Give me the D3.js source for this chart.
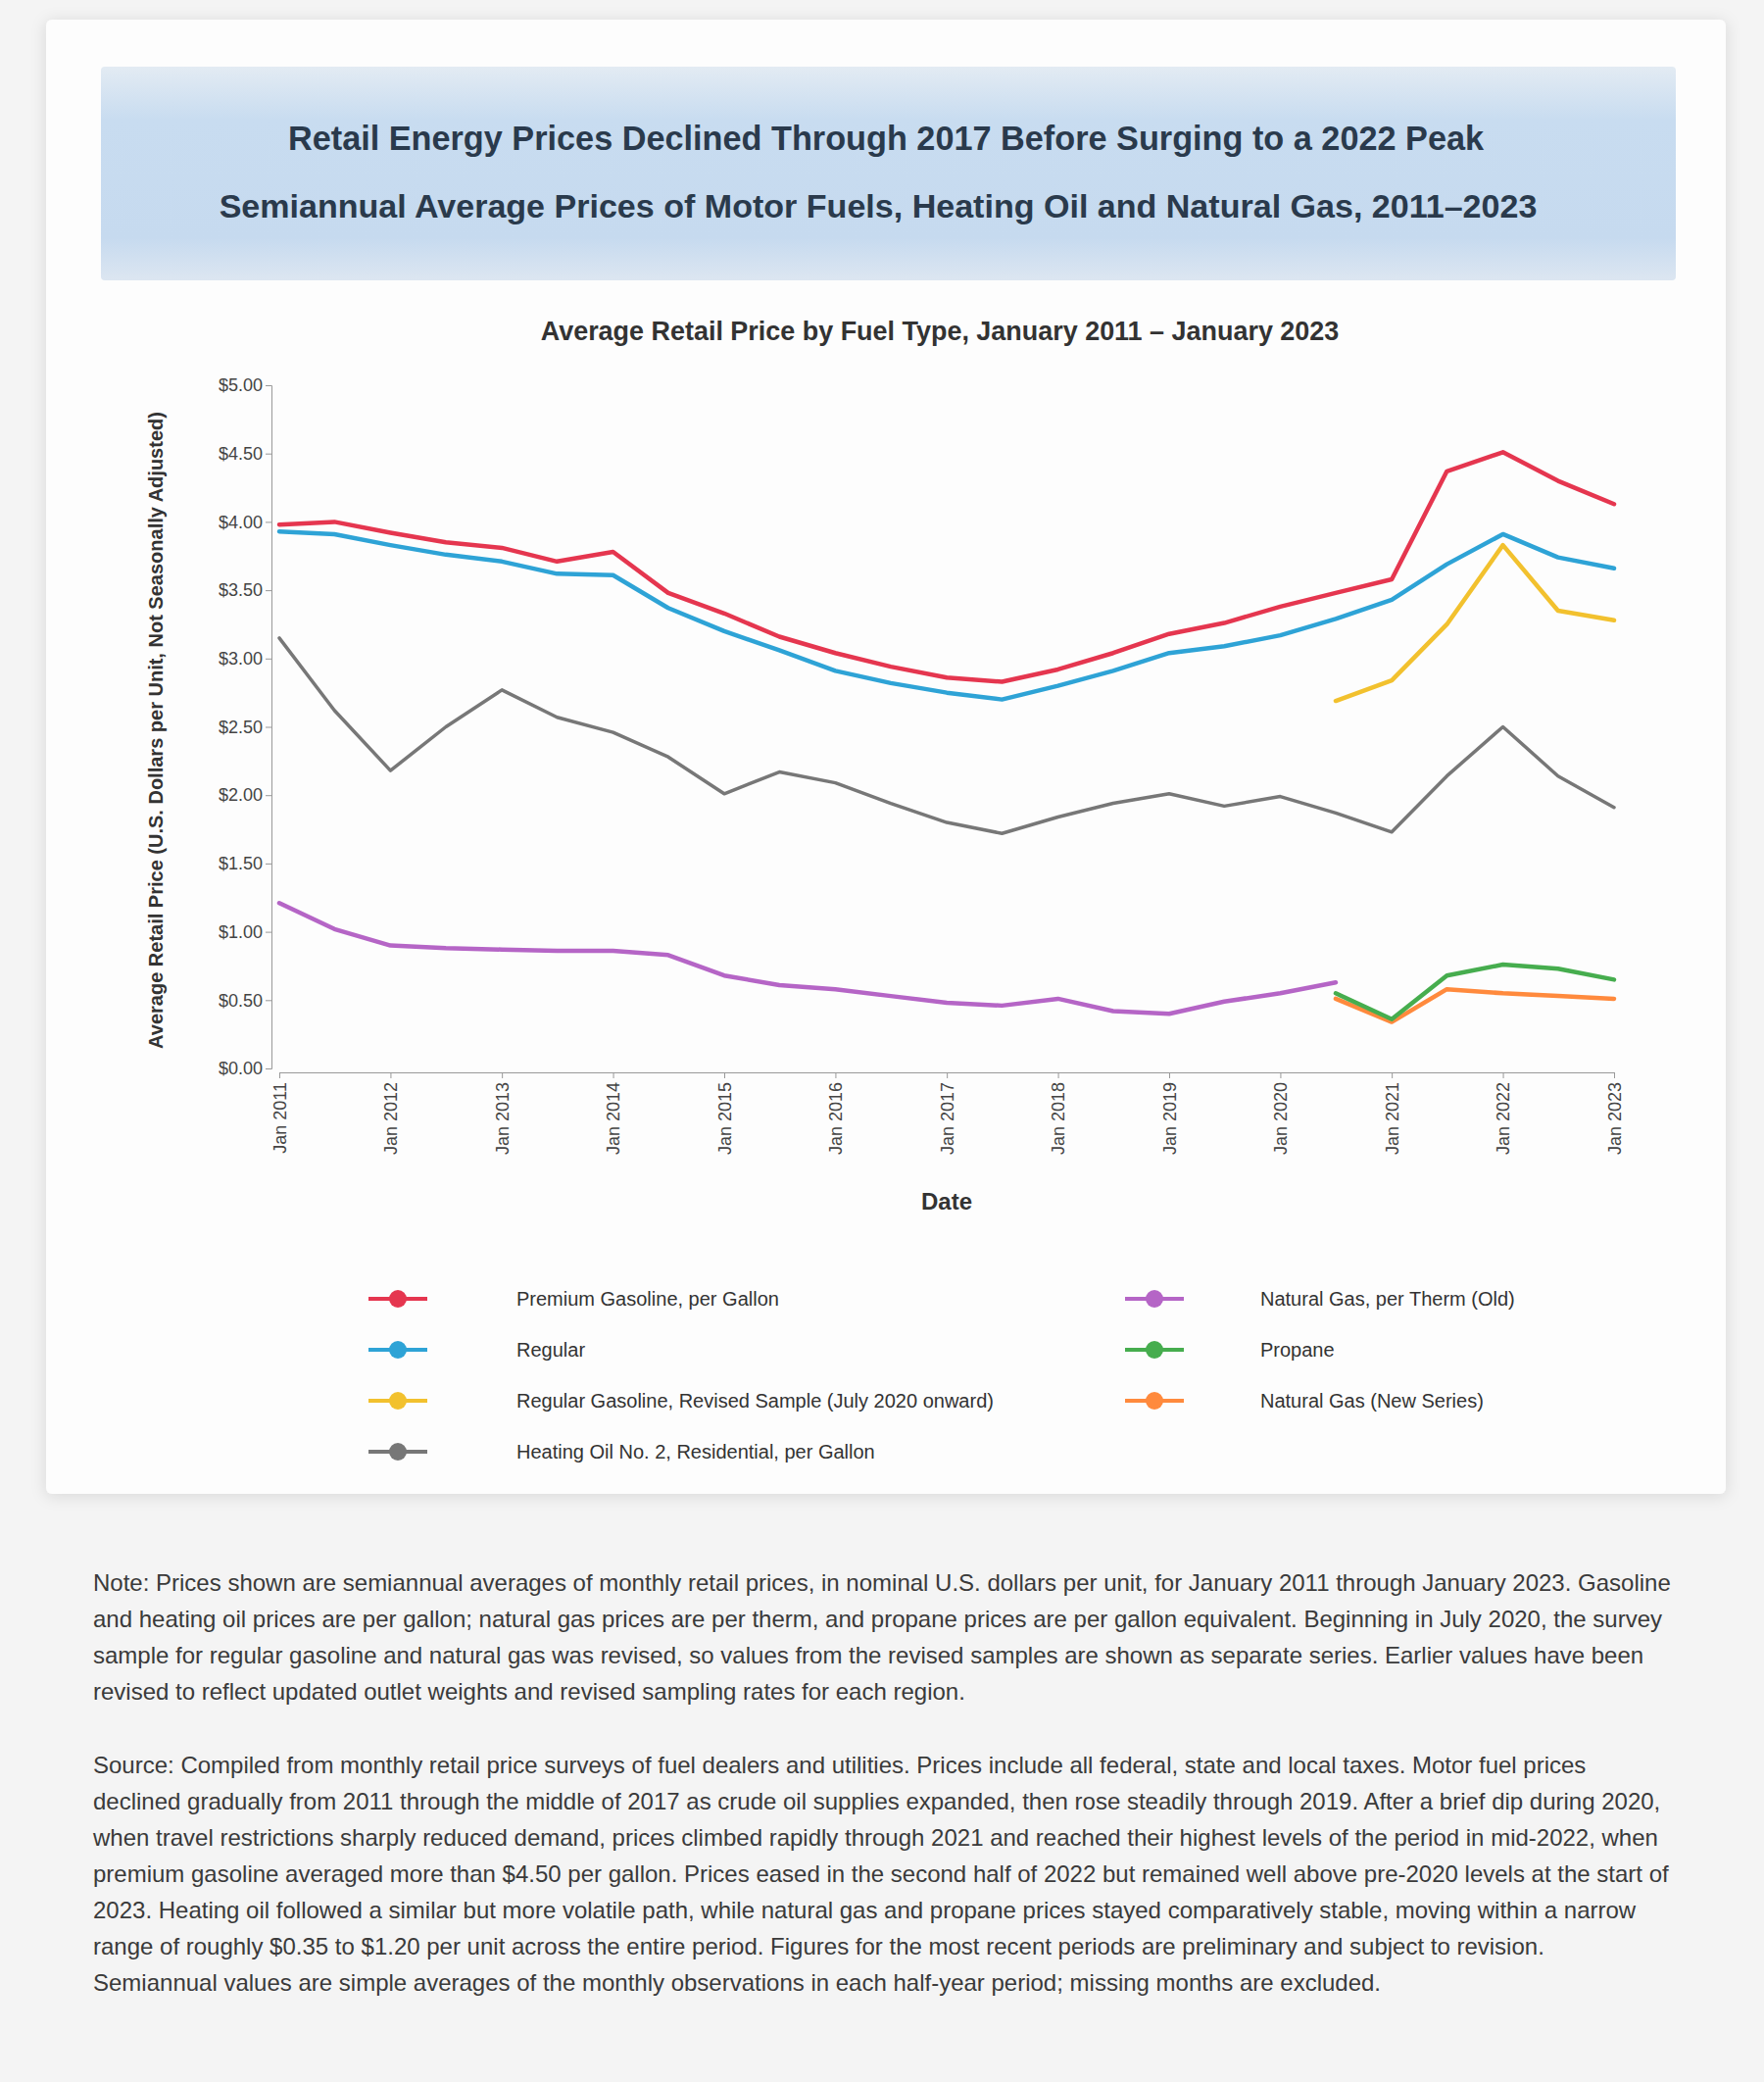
<!DOCTYPE html>
<html><head><meta charset="utf-8">
<script src="https://cdn.jsdelivr.net/npm/d3@7"></script>
<style>
html,body{margin:0;padding:0;background:#f4f4f4;}
svg{display:block;font-family:"Liberation Sans",Arial,"DejaVu Sans",sans-serif;}
</style></head><body>
<svg id="c" width="1800" height="2124"></svg>
<script>
// ---------- data ----------
const periods = ["2011-01","2011-07","2012-01","2012-07","2013-01","2013-07","2014-01","2014-07",
  "2015-01","2015-07","2016-01","2016-07","2017-01","2017-07","2018-01","2018-07",
  "2019-01","2019-07","2020-01","2020-07","2021-01","2021-07","2022-01","2022-07","2023-01"];
const premiumGasoline = [3.98,4.00,3.92,3.85,3.81,3.71,3.78,3.48,3.33,3.16,3.04,2.94,2.86,2.83,2.92,3.04,3.18,3.26,3.38,3.48,3.58,4.37,4.51,4.30,4.13];
const regularGasoline = [3.93,3.91,3.83,3.76,3.71,3.62,3.61,3.37,3.20,3.06,2.91,2.82,2.75,2.70,2.80,2.91,3.04,3.09,3.17,3.29,3.43,3.69,3.91,3.74,3.66];
const regularRevised  = [null,null,null,null,null,null,null,null,null,null,null,null,null,null,null,null,null,null,null,2.69,2.84,3.25,3.83,3.35,3.28];
const heatingOil      = [3.15,2.62,2.18,2.50,2.77,2.57,2.46,2.28,2.01,2.17,2.09,1.94,1.80,1.72,1.84,1.94,2.01,1.92,1.99,1.87,1.73,2.14,2.50,2.14,1.91];
const naturalGasOld   = [1.21,1.02,0.90,0.88,0.87,0.86,0.86,0.83,0.68,0.61,0.58,0.53,0.48,0.46,0.51,0.42,0.40,0.49,0.55,0.63,null,null,null,null,null];
const propane         = [null,null,null,null,null,null,null,null,null,null,null,null,null,null,null,null,null,null,null,0.55,0.36,0.68,0.76,0.73,0.65];
const naturalGasNew   = [null,null,null,null,null,null,null,null,null,null,null,null,null,null,null,null,null,null,null,0.51,0.34,0.58,0.55,0.53,0.51];

const seriesNames = ["Premium Gasoline, per Gallon","Regular","Regular Gasoline, Revised Sample (July 2020 onward)",
  "Heating Oil No. 2, Residential, per Gallon","Natural Gas, per Therm (Old)","Propane","Natural Gas (New Series)"];
const seriesValues = [premiumGasoline,regularGasoline,regularRevised,heatingOil,naturalGasOld,propane,naturalGasNew];
const seriesColors = ["#e5364f","#2ea3d6","#f2c12e","#777777","#b565c6","#46ad4e","#ff8a3d"];

const yTicks = [0,0.5,1,1.5,2,2.5,3,3.5,4,4.5,5];
const xTickYears = [2011,2012,2013,2014,2015,2016,2017,2018,2019,2020,2021,2022,2023];

const titleLines = ["Retail Energy Prices Declined Through 2017 Before Surging to a 2022 Peak",
  "Semiannual Average Prices of Motor Fuels, Heating Oil and Natural Gas, 2011–2023"];
const chartTitle = "Average Retail Price by Fuel Type, January 2011 – January 2023";
const yAxisTitle = "Average Retail Price (U.S. Dollars per Unit, Not Seasonally Adjusted)";
const xAxisTitle = "Date";
const paragraphs = [
 "Note: Prices shown are semiannual averages of monthly retail prices, in nominal U.S. dollars per unit, for January 2011 through January 2023. Gasoline and heating oil prices are per gallon; natural gas prices are per therm, and propane prices are per gallon equivalent. Beginning in July 2020, the survey sample for regular gasoline and natural gas was revised, so values from the revised samples are shown as separate series. Earlier values have been revised to reflect updated outlet weights and revised sampling rates for each region.",
 "Source: Compiled from monthly retail price surveys of fuel dealers and utilities. Prices include all federal, state and local taxes. Motor fuel prices declined gradually from 2011 through the middle of 2017 as crude oil supplies expanded, then rose steadily through 2019. After a brief dip during 2020, when travel restrictions sharply reduced demand, prices climbed rapidly through 2021 and reached their highest levels of the period in mid-2022, when premium gasoline averaged more than $4.50 per gallon. Prices eased in the second half of 2022 but remained well above pre-2020 levels at the start of 2023. Heating oil followed a similar but more volatile path, while natural gas and propane prices stayed comparatively stable, moving within a narrow range of roughly $0.35 to $1.20 per unit across the entire period. Figures for the most recent periods are preliminary and subject to revision. Semiannual values are simple averages of the monthly observations in each half-year period; missing months are excluded."
];

// ---------- drawing ----------
const svg = d3.select("#c");
const defs = svg.append("defs");
const sh = defs.append("filter").attr("id","shadow").attr("x","-5%").attr("y","-5%").attr("width","110%").attr("height","110%");
sh.append("feDropShadow").attr("dx",0).attr("dy",2).attr("stdDeviation",8).attr("flood-color","#000").attr("flood-opacity",0.12);
const bg = defs.append("linearGradient").attr("id","bannerGrad").attr("x1",0).attr("y1",0).attr("x2",0).attr("y2",1);
bg.append("stop").attr("offset","0%").attr("stop-color","#e3ebf3");
bg.append("stop").attr("offset","25%").attr("stop-color","#c8dcf0");
bg.append("stop").attr("offset","80%").attr("stop-color","#c6daef");
bg.append("stop").attr("offset","100%").attr("stop-color","#dce6f1");

// card
svg.append("rect").attr("x",47).attr("y",20).attr("width",1714).attr("height",1504)
  .attr("rx",6).attr("fill","#fdfdfd").attr("filter","url(#shadow)");
// banner
svg.append("rect").attr("x",103).attr("y",68).attr("width",1607).attr("height",218)
  .attr("rx",4).attr("fill","url(#bannerGrad)");

function fitText(sel, target){
  const w = sel.node().getComputedTextLength();
  const fs = parseFloat(sel.attr("font-size"));
  sel.attr("font-size", (fs*target/w).toFixed(2));
}
const t1 = svg.append("text").attr("x",904).attr("y",153).attr("text-anchor","middle")
  .attr("font-size",32).attr("font-weight","bold").attr("fill","#2a3a4c").text(titleLines[0]);
const t2 = svg.append("text").attr("x",896).attr("y",222).attr("text-anchor","middle")
  .attr("font-size",32).attr("font-weight","bold").attr("fill","#2a3a4c").text(titleLines[1]);
fitText(t1,1220); fitText(t2,1345);

const ct = svg.append("text").attr("x",959).attr("y",347).attr("text-anchor","middle")
  .attr("font-size",26).attr("font-weight","bold").attr("fill","#333").text(chartTitle);
fitText(ct,815);

// scales
const parse = d3.timeParse("%Y-%m");
const dates = periods.map(parse);
const x = d3.scaleTime().domain([new Date(2011,0,1), new Date(2023,0,1)]).range([285,1647]);
const y = d3.scaleLinear().domain([0,5]).range([1090,393]);

// axes
const yAx = svg.append("g").attr("transform","translate(277,0)")
  .call(d3.axisLeft(y).tickValues(yTicks).tickFormat(d=>"$"+d.toFixed(2)).tickSize(6));
yAx.selectAll("text").attr("font-size",18).attr("fill","#444");
yAx.selectAll("line,path").attr("stroke","#999");

const xAx = svg.append("g").attr("transform","translate(0,1094)")
  .call(d3.axisBottom(x).tickValues(xTickYears.map(yr=>new Date(yr,0,1))).tickFormat(d3.timeFormat("%b %Y")).tickSize(6));
xAx.selectAll("text").attr("font-size",18).attr("fill","#444")
  .attr("transform","rotate(-90)").attr("text-anchor","end").attr("x",-10).attr("y",0).attr("dy","0.35em");
xAx.selectAll("line,path").attr("stroke","#999");

svg.append("text").attr("transform","translate(166,745) rotate(-90)").attr("text-anchor","middle")
  .attr("font-size",20).attr("font-weight","bold").attr("fill","#333").text(yAxisTitle);
svg.append("text").attr("x",966).attr("y",1234).attr("text-anchor","middle")
  .attr("font-size",24).attr("font-weight","bold").attr("fill","#333").text(xAxisTitle);

// lines
const line = d3.line().defined(d=>d.v!==null).x(d=>x(d.t)).y(d=>y(d.v));
const drawOrder = [3,4,6,5,2,1,0];
drawOrder.forEach(i=>{
  const pts = dates.map((t,k)=>({t:t, v:seriesValues[i][k]}));
  svg.append("path").datum(pts).attr("d",line).attr("fill","none")
    .attr("stroke",seriesColors[i]).attr("stroke-width", i===3?3.5:4.5)
    .attr("stroke-linejoin","round").attr("stroke-linecap","round");
});

// legend
const legPos = [
  {sx:406,tx:527,y:1325},{sx:406,tx:527,y:1377},{sx:406,tx:527,y:1429},{sx:406,tx:527,y:1481},
  {sx:1178,tx:1286,y:1325},{sx:1178,tx:1286,y:1377},{sx:1178,tx:1286,y:1429}];
seriesNames.forEach((n,i)=>{
  const p = legPos[i];
  const g = svg.append("g");
  g.append("line").attr("x1",p.sx-30).attr("x2",p.sx+30).attr("y1",p.y).attr("y2",p.y)
    .attr("stroke",seriesColors[i]).attr("stroke-width",4);
  g.append("circle").attr("cx",p.sx).attr("cy",p.y).attr("r",9).attr("fill",seriesColors[i]);
  g.append("text").attr("x",p.tx).attr("y",p.y).attr("dy","0.35em").attr("font-size",20)
    .attr("fill","#333").text(n);
});

// paragraphs
function wrap(text, x0, y0, width, lh, fs){
  const words = text.split(" ");
  let lineWords = [], yy = y0;
  let t = svg.append("text").attr("x",x0).attr("y",yy).attr("font-size",fs).attr("fill","#3a3a3a");
  words.forEach(w=>{
    lineWords.push(w);
    t.text(lineWords.join(" "));
    if (t.node().getComputedTextLength() > width && lineWords.length>1){
      lineWords.pop();
      t.text(lineWords.join(" "));
      yy += lh;
      lineWords = [w];
      t = svg.append("text").attr("x",x0).attr("y",yy).attr("font-size",fs).attr("fill","#3a3a3a").text(w);
    }
  });
  return yy;
}
wrap(paragraphs[0], 95, 1623, 1613, 37, 24);
wrap(paragraphs[1], 95, 1809, 1613, 37, 24);
</script>
</body></html>
